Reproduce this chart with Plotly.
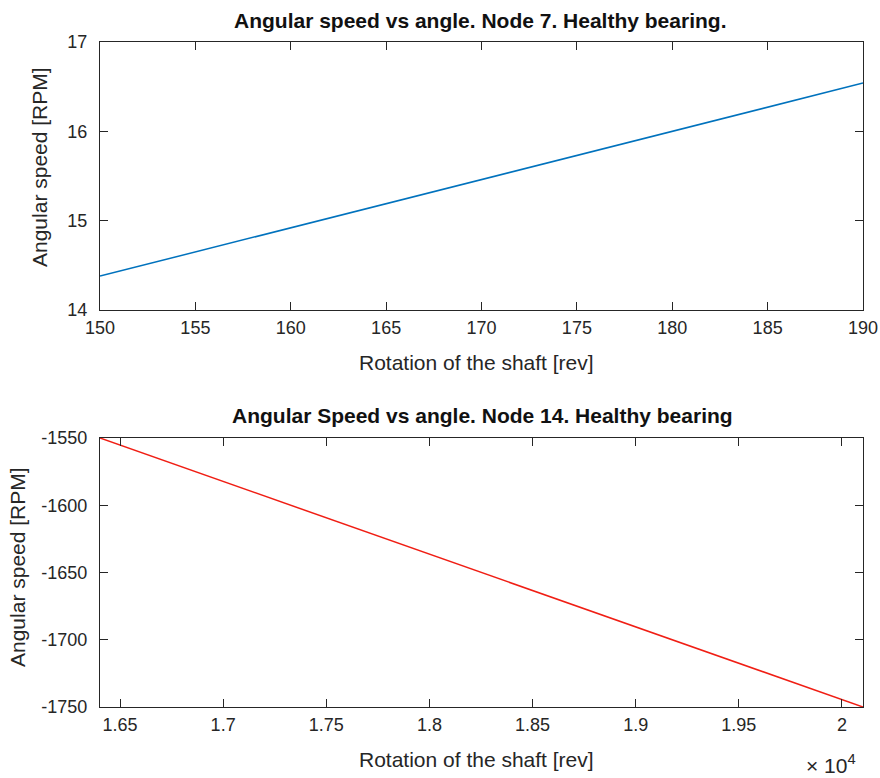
import plotly.graph_objects as go

# Data
rev_top = [150, 160, 170, 180, 190]
speed_top = [14.38, 14.92, 15.46, 16.00, 16.54]

rev_bot = [16403, 17000, 18000, 19000, 20102]
speed_bot = [-1550, -1582.3, -1636.4, -1690.5, -1750]

top_xticks = [150, 155, 160, 165, 170, 175, 180, 185, 190]
top_yticks = [14, 15, 16, 17]
bot_xticks = [16500, 17000, 17500, 18000, 18500, 19000, 19500, 20000]
bot_xticktext = ["1.65", "1.7", "1.75", "1.8", "1.85", "1.9", "1.95", "2"]
bot_yticks = [-1750, -1700, -1650, -1600, -1550]
bot_yticktext = ["-1750", "-1700", "-1650", "-1600", "-1550"]

W, H = 880, 778
FONT = "Liberation Sans, Arial, sans-serif"
AX = "#262626"

def px(x):
    return x / W

def py(y):
    return 1 - y / H

fig = go.Figure()
fig.add_trace(go.Scatter(x=rev_top, y=speed_top, mode="lines",
                         line=dict(color="#0072BD", width=1.5),
                         xaxis="x", yaxis="y", showlegend=False))
fig.add_trace(go.Scatter(x=rev_bot, y=speed_bot, mode="lines",
                         line=dict(color="#F01E14", width=1.5),
                         xaxis="x2", yaxis="y2", showlegend=False))

common = dict(showline=True, mirror="ticks", linecolor=AX, linewidth=1.2,
              ticks="inside", ticklen=8, tickcolor=AX, tickwidth=1.2,
              showgrid=False, zeroline=False, automargin=False,
              tickfont=dict(family=FONT, size=18, color=AX))

fig.update_layout(
    width=W, height=H, margin=dict(l=0, r=0, t=0, b=0, autoexpand=False),
    paper_bgcolor="white", plot_bgcolor="white",
    xaxis=dict(domain=[px(100), px(863)], anchor="y", range=[150, 190],
               tickvals=top_xticks, ticklabelstandoff=1, **common),
    yaxis=dict(domain=[py(310), py(42)], anchor="x", range=[14, 17],
               tickvals=top_yticks, ticklabelstandoff=8, **common),
    xaxis2=dict(domain=[px(100), px(863)], anchor="y2", range=[16403, 20102],
                tickvals=bot_xticks, ticktext=bot_xticktext, ticklabelstandoff=1, **common),
    yaxis2=dict(domain=[py(707), py(438)], anchor="x2", range=[-1750, -1550],
                tickvals=bot_yticks, ticktext=bot_yticktext, ticklabelstandoff=8, **common),
)

ann = []
def text(x, y, t, size=21, bold=False, angle=0, xanchor="center"):
    ann.append(dict(x=px(x), y=py(y), xref="paper", yref="paper", text=t,
                    showarrow=False, textangle=angle, xanchor=xanchor, yanchor="middle",
                    font=dict(family=FONT, size=size, color="#111111" if bold else AX)))

text(480, 20, "<b>Angular speed vs angle. Node 7. Healthy bearing.</b>", bold=True)
text(482, 416, "<b>Angular Speed vs angle. Node 14. Healthy bearing</b>", bold=True)
text(477, 362, "Rotation of the shaft [rev]")
text(477, 759, "Rotation of the shaft [rev]")
text(40, 167, "Angular speed [RPM]", angle=-90)
text(17, 567, "Angular speed [RPM]", angle=-90)
ann.append(dict(x=px(804), y=py(764), xref="paper", yref="paper",
                text="× 10<sup>4</sup>", showarrow=False, xanchor="left", yanchor="middle",
                font=dict(family=FONT, size=21, color=AX)))
fig.update_layout(annotations=ann)

fig.write_html("out.html")
